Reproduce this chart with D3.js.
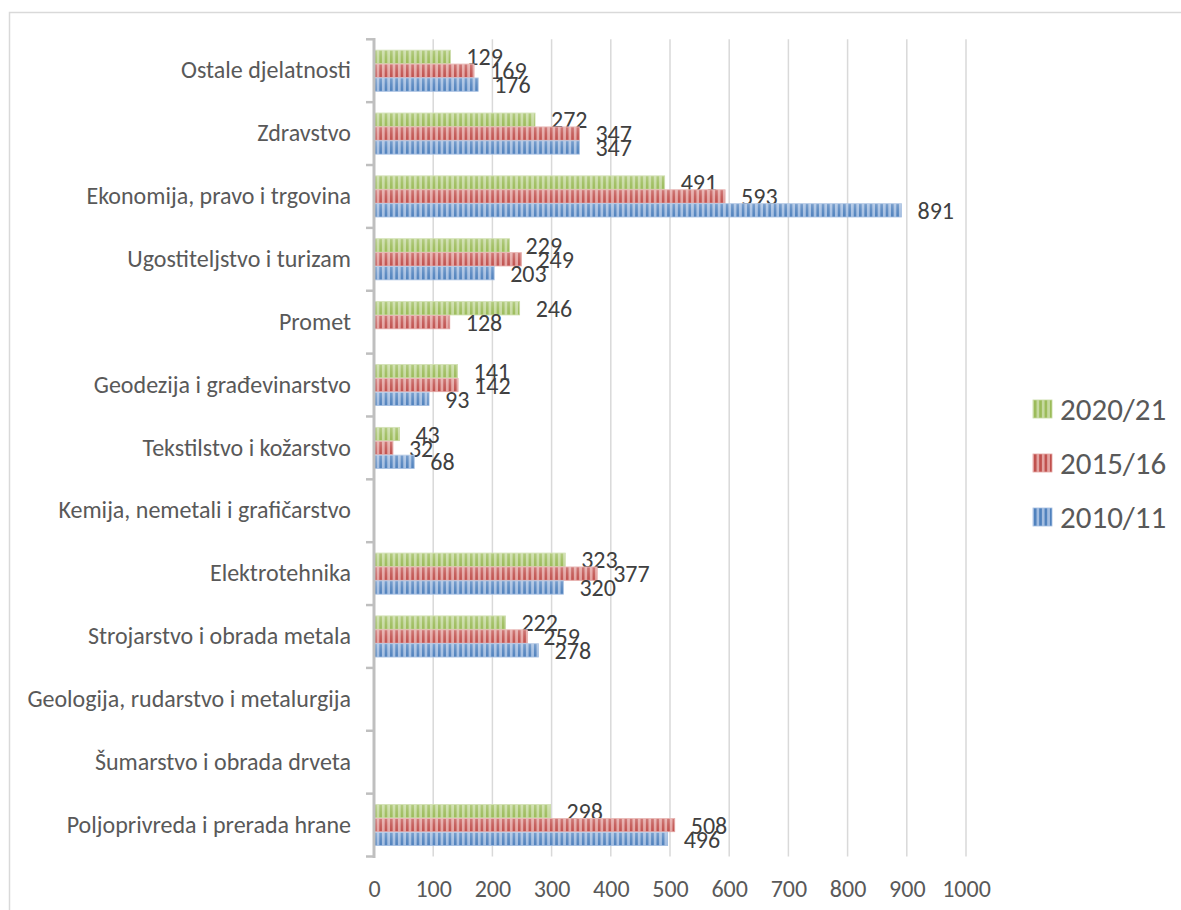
<!DOCTYPE html>
<html><head><meta charset="utf-8">
<script src="https://cdn.jsdelivr.net/npm/d3@7"></script>
<style>html,body{margin:0;padding:0;background:#fff;overflow:hidden}</style>
</head><body>
<svg id="c" width="1181" height="910"></svg>
<script>
const categories = ["Ostale djelatnosti","Zdravstvo","Ekonomija, pravo i trgovina","Ugostiteljstvo i turizam","Promet","Geodezija i građevinarstvo","Tekstilstvo i kožarstvo","Kemija, nemetali i grafičarstvo","Elektrotehnika","Strojarstvo i obrada metala","Geologija, rudarstvo i metalurgija","Šumarstvo i obrada drveta","Poljoprivreda i prerada hrane"];
const seriesNames = ["2020/21","2015/16","2010/11"];
const values2020 = [129,272,491,229,246,141,43,null,323,222,null,null,298];
const values2015 = [169,347,593,249,128,142,32,null,377,259,null,null,508];
const values2010 = [176,347,891,203,null,93,68,null,320,278,null,null,496];
const xTicks = [0,100,200,300,400,500,600,700,800,900,1000];

const colors = {
  "2020/21": {dark:"#9bbb59", light:"#c6d9a0"},
  "2015/16": {dark:"#c0504d", light:"#e3a3a1"},
  "2010/11": {dark:"#4f81bd", light:"#a3bde0"}
};
const seriesVals = {"2020/21":values2020,"2015/16":values2015,"2010/11":values2010};

const font = "Carlito, Calibri, Lato, sans-serif";
const fs = 24;
const svg = d3.select("#c");
const defs = svg.append("defs");
seriesNames.forEach((s,i)=>{
  const p = defs.append("pattern").attr("id","pat"+i).attr("patternUnits","userSpaceOnUse")
    .attr("x",374).attr("y",0).attr("width",5.33).attr("height",10);
  p.append("rect").attr("width",5.33).attr("height",10).attr("fill",colors[s].light);
  p.append("rect").attr("width",2.6).attr("height",10).attr("fill",colors[s].dark);
});
const grad = defs.append("linearGradient").attr("id","gl").attr("x1",0).attr("y1",0).attr("x2",0).attr("y2",1);
grad.append("stop").attr("offset","0").attr("stop-color","#fff").attr("stop-opacity",0.25);
grad.append("stop").attr("offset","0.5").attr("stop-color","#fff").attr("stop-opacity",0.1);
grad.append("stop").attr("offset","1").attr("stop-color","#fff").attr("stop-opacity",0);

// frame
svg.append("rect").attr("x",9.5).attr("y",12.5).attr("width",1180).attr("height",910)
  .attr("fill","none").attr("stroke","#d9d9d9").attr("stroke-width",1.5);

const x = d3.scaleLinear().domain([0,1000]).range([374,966]);
const y0 = d3.scaleBand().domain(categories).range([39.3,856.5]).paddingInner(0.337).paddingOuter(0.1685);
const y1 = d3.scaleBand().domain(seriesNames).range([0,y0.bandwidth()]);

// gridlines
svg.append("g").selectAll("line").data(xTicks.slice(1)).join("line")
  .attr("x1",d=>x(d)).attr("x2",d=>x(d)).attr("y1",39.3).attr("y2",856.5)
  .attr("stroke","#d9d9d9").attr("stroke-width",1.5);

// x tick labels
const xAxis = d3.axisBottom(x).tickValues(xTicks).tickFormat(d3.format("d")).tickSize(0).tickPadding(0);
const xg = svg.append("g").attr("transform","translate(0,888)").call(xAxis);
xg.select(".domain").remove();
xg.selectAll("text").attr("font-family",font).attr("font-size",fs).attr("fill","#595959").attr("dy","0.36em");

// bars
seriesNames.forEach((s,i)=>{
  const vals = seriesVals[s];
  const data = categories.map((c,k)=>({c,v:vals[k],k})).filter(d=>d.v!=null);
  const g = svg.append("g");
  g.selectAll("rect.bar").data(data).join("rect").attr("class","bar")
    .attr("x",x(0)).attr("y",d=>y0(d.c)+y1(s)+0.3).attr("width",d=>x(d.v)-x(0)).attr("height",y1.bandwidth()-0.6)
    .attr("fill",`url(#pat${i})`).attr("stroke",colors[s].light).attr("stroke-width",0.8);
  g.selectAll("rect.gl").data(data).join("rect").attr("class","gl")
    .attr("x",x(0)).attr("y",d=>y0(d.c)+y1(s)).attr("width",d=>x(d.v)-x(0)).attr("height",y1.bandwidth())
    .attr("fill","url(#gl)");
  g.selectAll("text").data(data).join("text")
    .attr("x",d=>x(d.v)+16).attr("y",d=>y0(d.c)+y1(s)+y1.bandwidth()/2).attr("dy","0.36em")
    .attr("font-family",font).attr("font-size",fs).attr("fill","#404040").text(d=>d.v);
});

// y axis
const yAxis = d3.axisLeft(y0).tickSize(0).tickPadding(23);
const yg = svg.append("g").attr("transform","translate(374,0)").call(yAxis);
yg.select(".domain").remove();
yg.selectAll("text").attr("font-family",font).attr("font-size",fs).attr("fill","#595959");
const bounds = categories.map(c=>y0(c)-y0.step()*y0.paddingInner()/2);
bounds.push(856.5);
svg.append("g").selectAll("line").data(bounds).join("line")
  .attr("x1",366).attr("x2",374).attr("y1",d=>d).attr("y2",d=>d).attr("stroke","#bfbfbf").attr("stroke-width",2.5);
svg.append("line").attr("x1",374).attr("x2",374).attr("y1",38).attr("y2",858).attr("stroke","#bfbfbf").attr("stroke-width",3);

// legend
const lg = svg.append("g").selectAll("g").data(seriesNames).join("g")
  .attr("transform",(d,i)=>`translate(1033,${409+i*54})`);
lg.append("rect").attr("x",0).attr("y",-9).attr("width",19).attr("height",18)
  .attr("fill",(d,i)=>`url(#pat${i})`).attr("stroke",d=>colors[d].light).attr("stroke-width",0.8);
lg.append("text").attr("x",27).attr("y",0).attr("dy","0.36em").attr("font-family",font).attr("font-size",31)
  .attr("fill","#595959").text(d=>d);
</script>
</body></html>
